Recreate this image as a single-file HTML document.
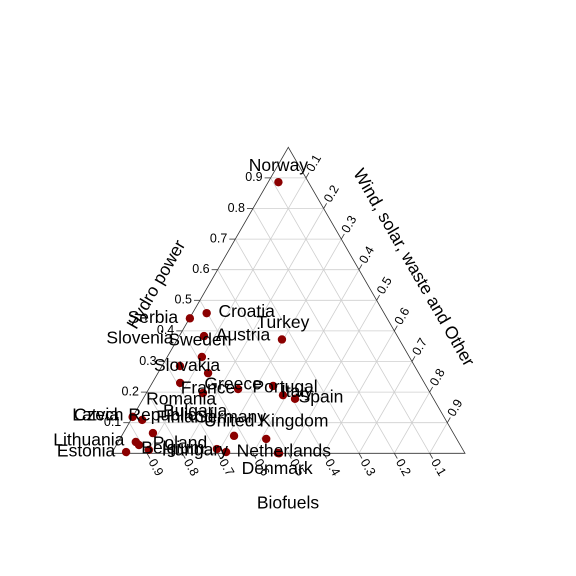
<!DOCTYPE html>
<html><head><meta charset="utf-8"><style>
html,body{margin:0;padding:0;background:#fff}
svg{display:block;font-family:"Liberation Sans",sans-serif}
</style></head><body>
<svg id="chart" width="576" height="576" viewBox="0 0 576 576">
<g id="grid"></g>
<polygon id="frame" fill="none" stroke="#333" stroke-width="0.8"/>
<g id="ticks"></g>
<g id="points"></g>
<g id="labels"></g>
<text x="157" y="285" font-size="17.5" text-anchor="middle" dominant-baseline="middle" transform="rotate(-60 157 285)">Hydro power</text>
<text x="413" y="268" font-size="17.5" text-anchor="middle" dominant-baseline="middle" transform="rotate(60 413 268)">Wind, solar, waste and Other</text>
<text x="288" y="504" font-size="17.5" text-anchor="middle" dominant-baseline="middle">Biofuels</text>
</svg>
<script>
const countries=["Norway","Croatia","Serbia","Turkey","Austria","Sweden","Slovenia","Slovakia","Romania","France","Greece","Portugal","Italy","Spain","Latvia","Czech Republic","Finland","Lithuania","Poland","Estonia","Belgium","Germany","United Kingdom","Hungary","Bulgaria","Netherlands","Denmark"];
const hydro=[0.886,0.458,0.441,0.372,0.383,0.315,0.285,0.262,0.230,0.197,0.210,0.220,0.190,0.178,0.119,0.109,0.066,0.037,0.027,0.004,0.011,0.057,0.047,0.014,0.004,0.001,0.000];
const wind=[0.029,0.040,0.001,0.296,0.070,0.098,0.051,0.142,0.079,0.160,0.253,0.347,0.390,0.430,0.000,0.032,0.084,0.050,0.064,0.039,0.100,0.318,0.414,0.291,0.322,0.470,0.474];
const tickLabels=["0.1","0.2","0.3","0.4","0.5","0.6","0.7","0.8","0.9"];
// label offsets relative to point (style, not data)
const labelDx=[0,40,-37,1,39,-2,-40,-21,1,5,-5,12,14,26,-37,-7,32,-47,41,-40,24,-4,0,-22,-31,6,-2];
const labelDy=[-16,-1,0,-16,0,-16,-27,-7,17,-4,-4,2,-3,-1,-1,-4,-15,-1,-1,0,-1,-18,-17,2,-40,-1,16];

const NS="http://www.w3.org/2000/svg";
const T=[288.3,147.3],L=[111.6,453.3],R=[465,453.3];
function px(h,w){const b=1-h-w;return [b*L[0]+h*T[0]+w*R[0], b*L[1]+h*T[1]+w*R[1]];}
function mk(tag,attrs,parent){const e=document.createElementNS(NS,tag);for(const k in attrs)e.setAttribute(k,attrs[k]);parent.appendChild(e);return e;}
document.getElementById('frame').setAttribute('points',[T,L,R].map(p=>p.join(',')).join(' '));
const grid=document.getElementById('grid'),ticks=document.getElementById('ticks');
for(let i=1;i<=9;i++){
  const v=i/10;
  let a=px(v,0),b=px(v,1-v);
  let l=mk('line',{x1:a[0],y1:a[1],x2:b[0],y2:b[1],stroke:"#cfcfcf","stroke-width":0.8},grid);
  
  a=px(0,v);b=px(1-v,v);
  l=mk('line',{x1:a[0],y1:a[1],x2:b[0],y2:b[1],stroke:"#cfcfcf","stroke-width":0.8},grid);
  
  a=px(1-v,0);b=px(0,1-v);
  l=mk('line',{x1:a[0],y1:a[1],x2:b[0],y2:b[1],stroke:"#cfcfcf","stroke-width":0.8},grid);
  
  let p=px(v,0);
  l=mk('line',{x1:p[0],y1:p[1],x2:p[0]-6,y2:p[1],stroke:"#333","stroke-width":0.8},ticks);
  
  let t=mk('text',{x:p[0]-8,y:p[1],"font-size":12.5,"text-anchor":"end","dominant-baseline":"middle"},ticks);
  t.textContent=tickLabels[i-1];
  
  p=px(1-v,v);
  const dx=Math.cos(Math.PI/3),dy=-Math.sin(Math.PI/3);
  l=mk('line',{x1:p[0],y1:p[1],x2:p[0]+dx*6,y2:p[1]+dy*6,stroke:"#333","stroke-width":0.8},ticks);
  
  let tx=p[0]+dx*8,ty=p[1]+dy*8;
  t=mk('text',{x:tx,y:ty,"font-size":12.5,"text-anchor":"start","dominant-baseline":"middle",transform:`rotate(-60 ${tx} ${ty})`},ticks);
  t.textContent=tickLabels[i-1];
  
  p=px(0,1-v);
  const ex=Math.cos(Math.PI/3),ey=Math.sin(Math.PI/3);
  l=mk('line',{x1:p[0],y1:p[1],x2:p[0]+ex*6,y2:p[1]+ey*6,stroke:"#333","stroke-width":0.8},ticks);
  
  tx=p[0]+ex*8;ty=p[1]+ey*8;
  t=mk('text',{x:tx,y:ty,"font-size":12.5,"text-anchor":"start","dominant-baseline":"middle",transform:`rotate(60 ${tx} ${ty})`},ticks);
  t.textContent=tickLabels[i-1];
  
}
const pts=document.getElementById('points'),labs=document.getElementById('labels');
countries.forEach((c,i)=>{
  const p=px(hydro[i],wind[i]);
  const d=mk('circle',{cx:p[0],cy:p[1],r:4.2,fill:"#8b0000"},pts);
  
  
  const t=mk('text',{x:p[0]+labelDx[i],y:p[1]+labelDy[i],"font-size":17.5,"text-anchor":"middle","dominant-baseline":"middle",fill:"#000"},labs);
  t.textContent=c;
  
  
});
</script>
</body></html>
